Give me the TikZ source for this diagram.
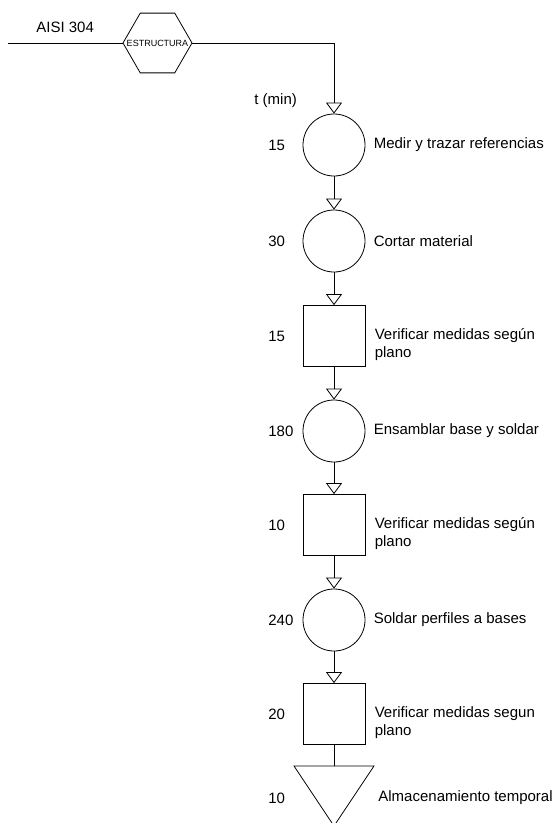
\documentclass[tikz,border=0pt]{standalone}
\usepackage{fontspec}
\setmainfont{Liberation Sans}
\usetikzlibrary{arrows.meta,shapes.geometric,positioning}

\begin{document}
\begin{tikzpicture}[x=1pt,y=-1pt,line width=0.8pt,
		op/.style={draw,circle,minimum size=62pt,inner sep=0pt},
		insp/.style={draw,rectangle,minimum width=62pt,minimum height=61pt,inner sep=0pt},
		flow/.style={-{Triangle[open,width=16pt,length=11pt]}},
		txt/.style={font=\fontsize{15}{18}\selectfont,inner sep=0pt,align=left}]
		\useasboundingbox (0,0) rectangle (557,823);

		% material que entra
		\coordinate (src) at (8,43);
		\node[draw,regular polygon,regular polygon sides=6,minimum size=69pt,inner sep=0pt,
			label={[font=\fontsize{9}{9}\selectfont,inner sep=0pt]center:ESTRUCTURA}] (est) at (157.5,43) {};
		\node[txt,anchor=west] (mat) at (36,27) {AISI 304};
		\node[txt,anchor=west] (tmin) at (254,101) {t (min)};

		% operaciones e inspecciones
		\node[op] (c1) at (334,145) {};
		\node[op] (c2) at (334,241) {};
		\node[insp] (s1) at (334,336) {};
		\node[op] (c3) at (334,431) {};
		\node[insp] (s2) at (334,525) {};
		\node[op] (c4) at (334,620) {};
		\node[insp] (s3) at (334,714) {};

		% almacenamiento
		\coordinate (alm) at (334,766);
		\draw (294,766) -- (374,766) -- (334,826) -- cycle;

		\draw (src) -- (est);
		\draw[flow] (est.east) -| (c1.north);
		\foreach \a/\b in {c1/c2,c2/s1,s1/c3,c3/s2,s2/c4,c4/s3}
			\draw[flow] (\a) -- (\b);
		\draw (s3) -- (alm);

		% tiempos
		\coordinate (tcol) at (268,0);
		\foreach \n/\t in {c1/15,c2/30,s1/15,c3/180,s2/10,c4/240,s3/20}
			\node[txt,anchor=west] (t-\n) at (\n -| tcol) {\t};
		\node[txt,anchor=west] (t-alm) at (268,798) {10};

		% descripciones
		\node[txt,right=8pt of c1.east] (d1) {Medir y trazar referencias};
		\node[txt,right=8pt of c2.east] (d2) {Cortar material};
		\node[txt,right=9pt of s1.east,yshift=-9pt] (d3) {Verificar medidas según\\plano};
		\node[txt,right=8pt of c3.east] (d4) {Ensamblar base y soldar};
		\node[txt,right=9pt of s2.east,yshift=-9pt] (d5) {Verificar medidas según\\plano};
		\node[txt,right=8pt of c4.east] (d6) {Soldar perfiles a bases};
		\node[txt,right=9pt of s3.east,yshift=-9pt] (d7) {Verificar medidas segun\\plano};
		\node[txt,anchor=west] (d8) at (378,798) {Almacenamiento temporal};
	\end{tikzpicture}
\end{document}
